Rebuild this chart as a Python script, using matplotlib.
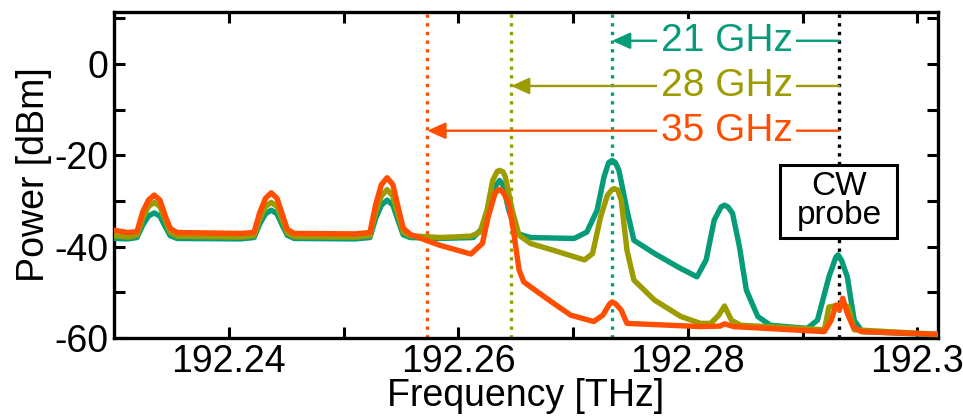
import numpy as np
import matplotlib
matplotlib.use("Agg")
import matplotlib.pyplot as plt
from matplotlib.ticker import MultipleLocator, FixedLocator
from matplotlib.patches import Rectangle

plt.rcParams['font.family'] = ['Liberation Sans', 'DejaVu Sans']
plt.rcParams['axes.unicode_minus'] = False

# spectra (THz, dBm)
f_low = [192.2300, 192.2312, 192.2320, 192.2325, 192.2330, 192.2335, 192.2340, 192.2345, 192.2349, 192.2355,
         192.2410, 192.2422, 192.2427, 192.2432, 192.2437, 192.2442, 192.2447, 192.2451, 192.2457,
         192.2510, 192.2523, 192.2528, 192.2533, 192.2538, 192.2543, 192.2548, 192.2552, 192.2558]
p_21_low = [-38.2, -38.3, -38.0, -35.3, -33.3, -32.6, -33.3, -35.8, -37.6, -38.2,
            -38.3, -38.0, -35.0, -32.8, -32.0, -32.8, -35.5, -37.5, -38.2,
            -38.3, -38.0, -33.8, -30.9, -29.8, -30.9, -34.6, -37.4, -38.0]
p_28_low = [-37.6, -37.9, -37.5, -33.8, -31.2, -30.3, -31.2, -34.4, -36.9, -37.7,
            -37.9, -37.6, -33.9, -31.2, -30.3, -31.2, -34.4, -37.0, -37.8,
            -37.9, -37.6, -32.4, -28.9, -27.5, -28.9, -33.4, -36.8, -37.6]
p_35_low = [-36.4, -36.9, -36.7, -32.4, -29.8, -28.7, -29.8, -33.5, -36.0, -36.9,
            -37.1, -36.9, -32.5, -29.4, -28.2, -29.4, -33.2, -36.2, -37.1,
            -37.2, -36.9, -30.8, -26.4, -24.9, -26.4, -31.8, -35.9, -37.3]

f_21 = [192.2584, 192.2613, 192.2622, 192.2628, 192.2633, 192.2636, 192.2639, 192.2644, 192.2651,
        192.2663, 192.2701, 192.2712, 192.2721, 192.2727, 192.2731, 192.2734, 192.2737, 192.2740,
        192.2747, 192.2753, 192.2771, 192.2794, 192.2808, 192.2816, 192.2823, 192.2829, 192.2832,
        192.2835, 192.2839, 192.2845, 192.2851, 192.2861, 192.2872, 192.2904, 192.2913, 192.2923,
        192.2929, 192.2931, 192.2934, 192.2939, 192.2945, 192.2952, 192.3018]
p_21 = [-38.2, -38.0, -35.7, -29.8, -26.5, -25.5, -26.5, -32.0, -37.1,
        -38.0, -38.2, -36.8, -32.0, -24.7, -21.6, -21.1, -21.6, -23.3,
        -32.0, -38.6, -41.5, -44.8, -46.6, -42.9, -34.2, -31.3, -30.9,
        -31.3, -32.7, -40.0, -49.5, -55.3, -57.2, -57.9, -56.1, -46.6,
        -42.3, -41.8, -43.0, -46.6, -56.1, -58.6, -59.3]

f_28 = [192.2584, 192.2611, 192.2619, 192.2625, 192.2630, 192.2634, 192.2636, 192.2639, 192.2641,
        192.2647, 192.2653, 192.2663, 192.2683, 192.2710, 192.2717, 192.2724, 192.2730, 192.2734,
        192.2736, 192.2739, 192.2742, 192.2747, 192.2753, 192.2771, 192.2794, 192.2811, 192.2820,
        192.2827, 192.2832, 192.2838, 192.2846, 192.2919, 192.2923, 192.2932, 192.2940, 192.2945,
        192.3018]
p_28 = [-38.0, -37.7, -36.8, -32.0, -25.5, -23.5, -23.3, -23.6, -24.7,
        -32.0, -37.5, -39.3, -40.8, -42.9, -41.5, -33.5, -28.7, -27.5,
        -27.3, -27.6, -29.8, -40.8, -47.3, -51.7, -55.3, -56.8, -56.8,
        -55.0, -53.0, -56.1, -57.2, -58.2, -53.2, -52.8, -53.2, -58.2,
        -59.2]

f_35 = [192.2584, 192.2611, 192.2621, 192.2626, 192.2632, 192.2635, 192.2637, 192.2640, 192.2644,
        192.2648, 192.2653, 192.2657, 192.2669, 192.2683, 192.2698, 192.2718, 192.2726, 192.2732,
        192.2734, 192.2737, 192.2742, 192.2747, 192.2811, 192.2828, 192.2832, 192.2840, 192.2919,
        192.2925, 192.2929, 192.2932, 192.2935, 192.2939, 192.2944, 192.2951, 192.3018]
p_35 = [-39.7, -41.6, -39.3, -33.5, -28.3, -27.5, -27.5, -28.5, -30.5,
        -36.4, -45.1, -47.7, -49.9, -52.4, -55.0, -56.4, -55.0, -52.5,
        -52.1, -52.5, -53.9, -56.8, -57.5, -57.4, -56.9, -57.5, -58.6,
        -56.1, -52.8, -53.8, -51.3, -54.6, -57.5, -58.6, -59.2]

# markers
f_probe = 192.2932
labels = ['21 GHz', '28 GHz', '35 GHz']
f_shift = [192.2734, 192.2646, 192.2573]
arrow_y = [5.1, -4.8, -14.6]
colors = ['#069C7A', '#9C9C00', '#FF4E00']

fig = plt.figure(figsize=(9.63, 4.18), dpi=100)
ax = fig.add_axes([0.1184, 0.1914, 0.8556, 0.7799])

# dotted markers
for fs, c in zip(f_shift, colors):
    ax.axvline(fs, color=c, ls=(0, (1, 1.6)), lw=2.4, zorder=1)
ax.axvline(f_probe, color='black', ls=(0, (1, 1.6)), lw=2.4, zorder=1)

# spectra
series = [(f_21, p_21, p_21_low), (f_28, p_28, p_28_low), (f_35, p_35, p_35_low)]
for i, (f, p, p_low) in enumerate(series):
    ax.plot(f_low + f, p_low + p, color=colors[i], lw=3.9,
            solid_joinstyle='round', solid_capstyle='round', zorder=3 + i)

# shift arrows with labels
for lab, fs, y, c in zip(labels, f_shift, arrow_y, colors):
    ax.annotate('', xy=(fs, y), xytext=(f_probe, y),
                arrowprops=dict(arrowstyle='-|>,head_length=0.55,head_width=0.25',
                                mutation_scale=20, color=c, lw=1.7,
                                shrinkA=0, shrinkB=0),
                zorder=6)
    ax.text(192.2834, y, lab, color=c, fontsize=28,
            ha='center', va='center', zorder=7,
            bbox=dict(facecolor='white', edgecolor='none', pad=2.5))

ax.add_patch(Rectangle((0.808, 0.307), 0.142, 0.224, transform=ax.transAxes,
                       facecolor='white', edgecolor='black', lw=2.2, zorder=8))
ax.text(f_probe, -30.0, 'CW\nprobe', fontsize=24, ha='center', va='center',
        linespacing=0.92, zorder=9)

ax.set_xlim(192.23, 192.3018)
ax.set_ylim(-60, 11.4)
ax.xaxis.set_major_locator(FixedLocator([192.24, 192.26, 192.28, 192.3]))
ax.set_xticklabels(['192.24', '192.26', '192.28', '192.3'])
ax.xaxis.set_minor_locator(FixedLocator([192.25, 192.27, 192.29]))
ax.yaxis.set_major_locator(MultipleLocator(20))
ax.yaxis.set_minor_locator(MultipleLocator(10))
ax.tick_params(which='both', direction='in', top=True, right=True, width=2.2,
               length=8, labelsize=27, pad=4)
for s in ax.spines.values():
    s.set_linewidth(2.4)

ax.set_xlabel('Frequency [THz]', fontsize=27, labelpad=-1)
ax.set_ylabel('Power [dBm]', fontsize=27, labelpad=2)

fig.savefig('out.png', dpi=100)
